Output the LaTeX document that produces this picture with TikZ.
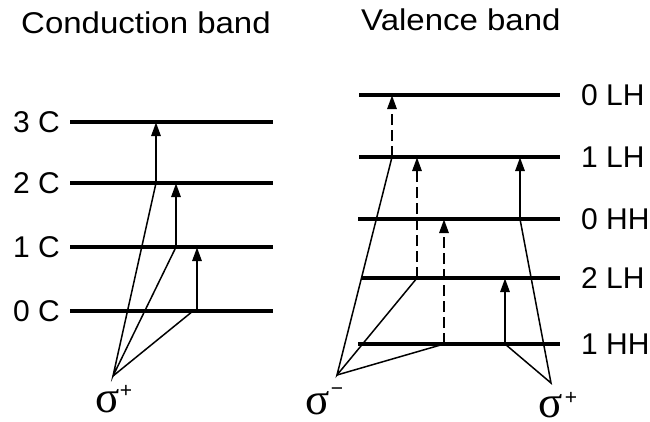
\documentclass[tikz,border=0pt]{standalone}
\usepackage{fontspec}
\setmainfont{Liberation Sans}
\newfontfamily\titlefont{Liberation Sans}[FakeStretch=1.1]
\newfontfamily\sigfont{Liberation Serif}
\usetikzlibrary{arrows.meta}
\begin{document}
\begin{tikzpicture}[x=1pt,y=-1pt,
  level/.style={line width=4pt},
  trans/.style={line width=2.8pt,-{Triangle[width=9pt,length=14pt]}},
  dtrans/.style={trans,dash pattern=on 11pt off 5pt},
  feed/.style={line width=1.5pt},
  lbl/.style={font=\fontsize{30}{30}\selectfont,inner sep=0pt},
  ttl/.style={font=\titlefont\fontsize{30}{30}\selectfont,inner sep=0pt},
  sig/.style={font=\sigfont\fontsize{45}{45}\selectfont,inner sep=0pt},
  sup/.style={font=\fontsize{21}{21}\selectfont,inner sep=0pt}]
\useasboundingbox (0,0) rectangle (650,421);

% titles
\node[ttl,anchor=base west] (tc) at (21,33) {Conduction band};
\node[ttl,anchor=base west] (tv) at (361,30) {Valence band};

% conduction levels
\coordinate (c3a) at (70,122); \coordinate (c3b) at (273,122);
\coordinate (c2a) at (70,183); \coordinate (c2b) at (273,183);
\coordinate (c1a) at (70,247); \coordinate (c1b) at (273,247);
\coordinate (c0a) at (70,311); \coordinate (c0b) at (273,311);
\foreach \n in {0,1,2,3} \draw[level] (c\n a) -- (c\n b);
\node[lbl,anchor=east] (l3) at (60,122) {3 C};
\node[lbl,anchor=east] (l2) at (60,183) {2 C};
\node[lbl,anchor=east] (l1) at (60,247) {1 C};
\node[lbl,anchor=east] (l0) at (60,311) {0 C};

% conduction transitions
\coordinate (ap) at (113,376);
\coordinate (t3s) at (156,183); \coordinate (t3e) at (156,122);
\coordinate (t2s) at (176,247); \coordinate (t2e) at (176,183);
\coordinate (t1s) at (197,311); \coordinate (t1e) at (197,247);
\coordinate (t1f) at (193,311);
\draw[trans] (t3s) -- (t3e);
\draw[trans] (t2s) -- (t2e);
\draw[trans] (t1s) -- (t1e);
\draw[feed] (t3s) -- (ap) -- (t2s);
\draw[feed] (ap) -- (t1f);
\node[sig,anchor=base west] (s1) at (95,412) {σ};
\node[sup] (s1p) at (126,391) {+};

% valence levels
\coordinate (v4a) at (359,95);  \coordinate (v4b) at (560,95);
\coordinate (v3a) at (359,157); \coordinate (v3b) at (560,157);
\coordinate (v2a) at (358,219); \coordinate (v2b) at (560,219);
\coordinate (v1a) at (362,278); \coordinate (v1b) at (560,278);
\coordinate (v0a) at (358,344); \coordinate (v0b) at (560,344);
\foreach \n in {0,1,2,3,4} \draw[level] (v\n a) -- (v\n b);
\node[lbl,anchor=west] (r4) at (581,95) {0 LH};
\node[lbl,anchor=west] (r3) at (581,157) {1 LH};
\node[lbl,anchor=west] (r2) at (581,219) {0 HH};
\node[lbl,anchor=west] (r1) at (581,278) {2 LH};
\node[lbl,anchor=west] (r0) at (581,344) {1 HH};

% valence transitions sigma-
\coordinate (am) at (337,375);
\coordinate (d1s) at (392,157); \coordinate (d1e) at (392,95);
\coordinate (d2s) at (417,278); \coordinate (d2e) at (417,157);
\coordinate (d3s) at (444,344); \coordinate (d3e) at (444,219);
\draw[dtrans] (d1s) -- (d1e);
\draw[dtrans] (d2s) -- (d2e);
\draw[dtrans] (d3s) -- (d3e);
\draw[feed] (d1s) -- (am) -- (d2s);
\draw[feed] (am) -- (d3s);
\node[sig,anchor=base west] (s2) at (305,414) {σ};
\node[sup] (s2m) at (337,392) {−};

% valence transitions sigma+
\coordinate (aq) at (551,383);
\coordinate (e1s) at (520,219); \coordinate (e1e) at (520,157);
\coordinate (e2s) at (505,344); \coordinate (e2e) at (505,278);
\draw[trans] (e1s) -- (e1e);
\draw[trans] (e2s) -- (e2e);
\draw[feed] (e1s) -- (aq) -- (e2s);
\node[sig,anchor=base west] (s3) at (538,417) {σ};
\node[sup] (s3p) at (571,398) {+};
\end{tikzpicture}
\end{document}
